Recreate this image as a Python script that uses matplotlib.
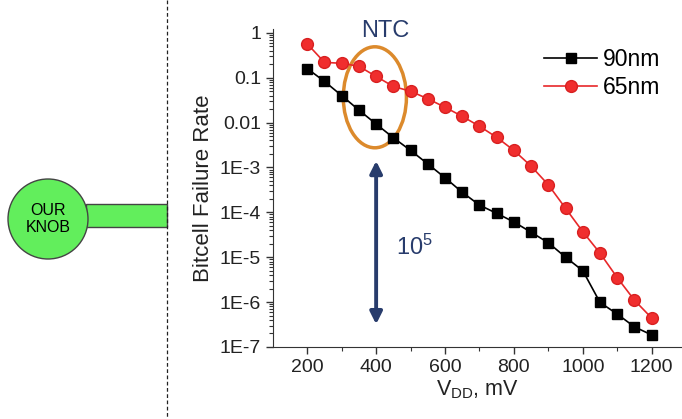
import numpy as np
import matplotlib
matplotlib.use('Agg')
import matplotlib.pyplot as plt
from matplotlib.patches import Ellipse, Circle, Rectangle
from matplotlib.ticker import FixedLocator, FixedFormatter, LogLocator, NullFormatter

plt.rcParams['font.family'] = ['Liberation Sans', 'DejaVu Sans']

# data
vdd = [200, 250, 300, 350, 400, 450, 500, 550, 600, 650, 700,
       750, 800, 850, 900, 950, 1000, 1050, 1100, 1150, 1200]
fail_90nm = [0.16, 0.083, 0.040, 0.019, 0.0093, 0.0046, 0.0024, 0.0012,
             5.9e-4, 2.8e-4, 1.45e-4, 9.5e-5, 6.1e-5, 3.6e-5, 2.1e-5,
             1.0e-5, 5.0e-6, 9.8e-7, 5.4e-7, 2.8e-7, 1.85e-7]
fail_65nm = [0.57, 0.22, 0.21, 0.18, 0.107, 0.064, 0.050, 0.034, 0.022,
             0.0138, 0.0083, 0.0047, 0.0024, 0.00107, 4.1e-4, 1.23e-4,
             3.7e-5, 1.23e-5, 3.5e-6, 1.1e-6, 4.4e-7]
series_labels = ['90nm', '65nm']

y_ticks = [1, 0.1, 0.01, 1e-3, 1e-4, 1e-5, 1e-6, 1e-7]
y_ticklabels = ['1', '0.1', '0.01', '1E-3', '1E-4', '1E-5', '1E-6', '1E-7']
x_ticks = [200, 400, 600, 800, 1000, 1200]
x_minor = [300, 500, 700, 900, 1100]

navy = '#283c6c'
W, H = 682, 419
fig = plt.figure(figsize=(W / 100, H / 100), dpi=100)

# background layer in pixel coords for the knob drawing
bg = fig.add_axes([0, 0, 1, 1])
bg.set_xlim(0, W); bg.set_ylim(H, 0); bg.axis('off')
bg.plot([167, 167], [0, H], color='#222222', lw=0.9, ls=(0, (3, 2)))
bg.add_patch(Rectangle((86, 204), 81, 23, facecolor='#62ee5c', edgecolor='#444444', lw=1))
bg.add_patch(Circle((48, 219), 40, facecolor='#62ee5c', edgecolor='#444444', lw=1))
bg.text(48, 219, 'OUR\nKNOB', ha='center', va='center', fontsize=11.5, linespacing=1.1)

ax = fig.add_axes([0.400, 0.172, 0.601, 0.758])
ax.patch.set_alpha(0)
ax.plot(vdd, fail_90nm, color='black', marker='s', ms=7, lw=1.2, label=series_labels[0])
ax.plot(vdd, fail_65nm, color='#e8282a', marker='o', ms=8.5, mfc='#f02e2e',
        mec='#d82020', lw=1.2, label=series_labels[1])

ax.set_yscale('log')
ax.set_ylim(1e-7, 1.2)
ax.set_xlim(100, 1290)
ax.yaxis.set_major_locator(FixedLocator(y_ticks))
ax.yaxis.set_major_formatter(FixedFormatter(y_ticklabels))
ax.yaxis.set_minor_locator(LogLocator(base=10, subs=np.arange(2, 10)))
ax.yaxis.set_minor_formatter(NullFormatter())
ax.set_xticks(x_ticks)
ax.xaxis.set_minor_locator(FixedLocator(x_minor))

for s in ['top', 'right']:
    ax.spines[s].set_visible(False)
for s in ['left', 'bottom']:
    ax.spines[s].set_color('#333333')
ax.tick_params(which='major', direction='out', length=5, width=1, labelsize=14, colors='#333333')
ax.tick_params(which='minor', direction='out', length=3, width=0.8, colors='#333333')
ax.tick_params(labelcolor='#222222')

ax.set_xlabel('V$_{\\mathregular{DD}}$, mV', fontsize=15.5, color='#222222', labelpad=2)
ax.set_ylabel('Bitcell Failure Rate', fontsize=16, color='#222222', labelpad=4)

ax.legend(loc='upper right', bbox_to_anchor=(0.99, 1.0), frameon=False, fontsize=16.5,
          handlelength=2.3, handletextpad=0.25, labelspacing=0.25, borderpad=0.3)

# NTC annotation
ax.add_patch(Ellipse((0.249, 0.786), 0.154, 0.318, transform=ax.transAxes,
                     fill=False, edgecolor='#dc8a2c', lw=2.5, clip_on=False))
ax.text(0.275, 0.995, 'NTC', transform=ax.transAxes, ha='center', va='center',
        fontsize=17, color=navy)
ax.annotate('', xy=(400, 3.2e-7), xytext=(400, 1.4e-3),
            arrowprops=dict(arrowstyle='<|-|>', color=navy, lw=2.8,
                            mutation_scale=18, shrinkA=0, shrinkB=0))
ax.text(0.30, 0.315, '$\\mathregular{10^5}$', transform=ax.transAxes,
        fontsize=17, color=navy, ha='left', va='center')

plt.savefig('out.png', dpi=100)
plt.close()
